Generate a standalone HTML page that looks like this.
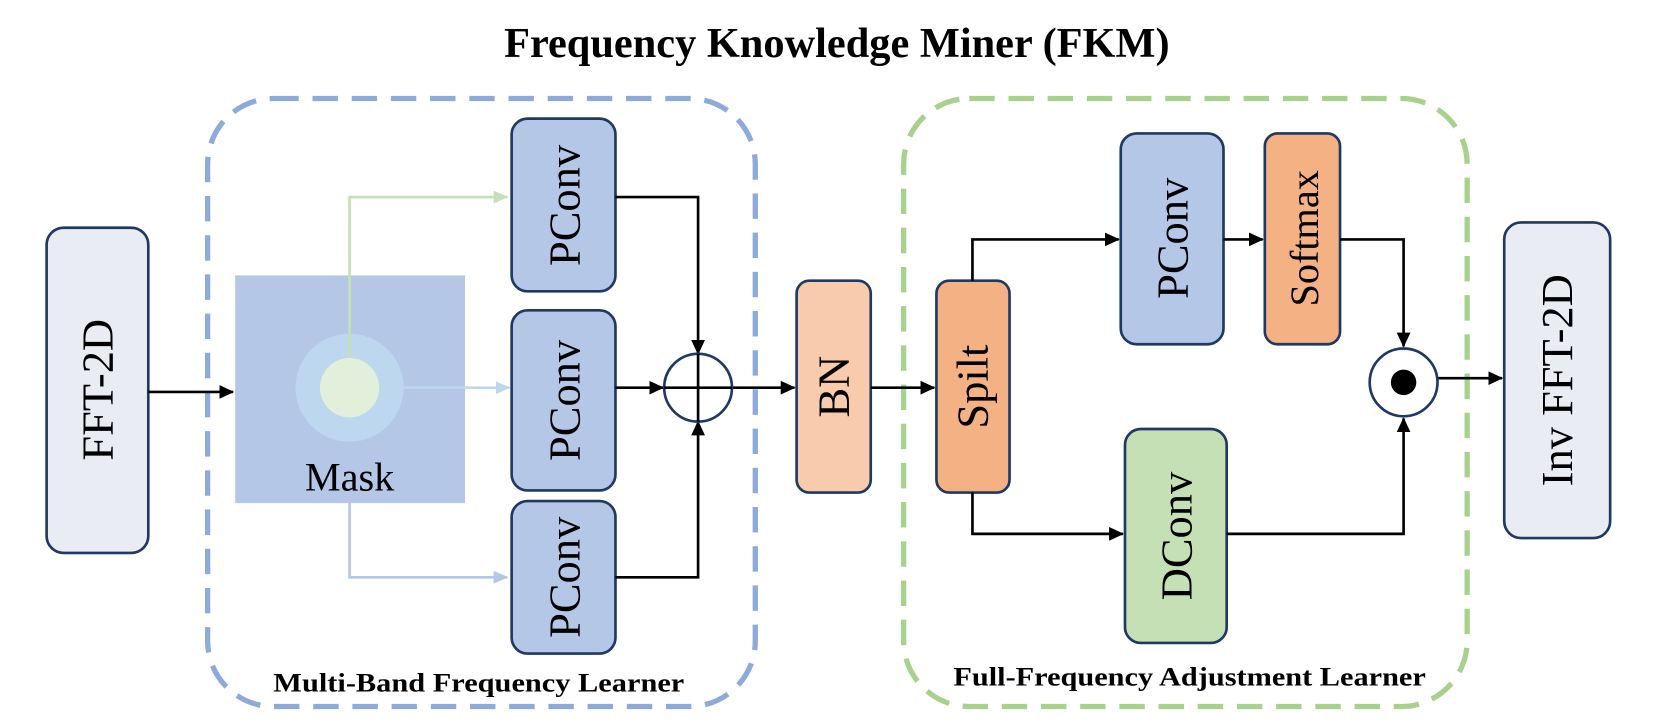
<!DOCTYPE html>
<html><head><style>body{margin:0;background:#fff}svg{display:block}</style></head><body>
<svg width="1661" height="724" viewBox="0 0 1568 683.5" preserveAspectRatio="none" xmlns="http://www.w3.org/2000/svg" font-family="Liberation Serif, serif">
<defs>
<marker id="ak" markerWidth="14" markerHeight="13" refX="13" refY="6.5" orient="auto" markerUnits="userSpaceOnUse"><path d="M0,0 L14,6.5 L0,13 z" fill="#000"/></marker>
<marker id="ag" markerWidth="14" markerHeight="12" refX="13" refY="6" orient="auto" markerUnits="userSpaceOnUse"><path d="M0,0 L14,6 L0,12 z" fill="#c5e0b4"/></marker>
<marker id="ab" markerWidth="14" markerHeight="12" refX="13" refY="6" orient="auto" markerUnits="userSpaceOnUse"><path d="M0,0 L14,6 L0,12 z" fill="#bdd7ee"/></marker>
<marker id="ab2" markerWidth="14" markerHeight="12" refX="13" refY="6" orient="auto" markerUnits="userSpaceOnUse"><path d="M0,0 L14,6 L0,12 z" fill="#b4c7e7"/></marker>
</defs>
<text x="790" y="54" text-anchor="middle" font-size="40" font-weight="bold">Frequency Knowledge Miner (FKM)</text>
<rect x="196" y="93" width="517" height="574" rx="62" fill="none" stroke="#8eaadb" stroke-width="5" stroke-dasharray="24 13"/>
<rect x="853" y="93" width="532" height="574" rx="62" fill="none" stroke="#a9d18e" stroke-width="5" stroke-dasharray="24 13"/>
<g stroke="#1f3864" stroke-width="2.5">
<rect x="44" y="215" width="96" height="307" rx="16" fill="#e9ecf2"/>
<rect x="483" y="112" width="98" height="163" rx="15" fill="#b4c7e7"/>
<rect x="483" y="293" width="98" height="170" rx="15" fill="#b4c7e7"/>
<rect x="483" y="473" width="98" height="144" rx="15" fill="#b4c7e7"/>
<rect x="752" y="265" width="70" height="200" rx="12" fill="#f8cbad"/>
<rect x="884" y="265" width="69" height="200" rx="12" fill="#f4b183"/>
<rect x="1058" y="126" width="97" height="199" rx="15" fill="#b4c7e7"/>
<rect x="1194" y="126" width="71" height="199" rx="12" fill="#f4b183"/>
<rect x="1062" y="405" width="96" height="202" rx="15" fill="#c5e0b4"/>
<rect x="1420" y="210" width="100" height="298" rx="16" fill="#e9ecf2"/>
</g>
<rect x="222" y="260" width="217" height="215" fill="#b4c7e7"/>
<circle cx="330" cy="366" r="51" fill="#bdd7ee"/>
<circle cx="330" cy="366" r="28" fill="#e2efda"/>
<text x="330" y="463" text-anchor="middle" font-size="38">Mask</text>
<g fill="none" stroke-width="2.5">
<path d="M330,338 V186 H479" stroke="#c5e0b4" marker-end="url(#ag)"/>
<path d="M381,366 H481" stroke="#bdd7ee" marker-end="url(#ab)"/>
<path d="M330,475 V545 H479" stroke="#b4c7e7" marker-end="url(#ab2)"/>
</g>
<g fill="none" stroke="#000" stroke-width="2.5">
<path d="M140,370 H220" marker-end="url(#ak)"/>
<path d="M581,186 H659 V334" marker-end="url(#ak)"/>
<path d="M581,366 H626" marker-end="url(#ak)"/>
<path d="M581,545 H659 V398" marker-end="url(#ak)"/>
<path d="M691,366 H750" marker-end="url(#ak)"/>
<path d="M822,366 H882" marker-end="url(#ak)"/>
<path d="M918,265 V226 H1056" marker-end="url(#ak)"/>
<path d="M918,465 V504 H1060" marker-end="url(#ak)"/>
<path d="M1155,226 H1192" marker-end="url(#ak)"/>
<path d="M1265,226 H1325 V327" marker-end="url(#ak)"/>
<path d="M1158,504 H1325 V395" marker-end="url(#ak)"/>
<path d="M1357,357 H1418" marker-end="url(#ak)"/>
</g>
<circle cx="659" cy="366" r="32" fill="#fff" stroke="#1f3864" stroke-width="2.5"/>
<path d="M627,366 H691 M659,334 V398" stroke="#000" stroke-width="2.5"/>
<circle cx="1325" cy="361" r="32" fill="#fff" stroke="#1f3864" stroke-width="2.5"/>
<circle cx="1325" cy="361" r="12" fill="#000"/>
<g font-size="42" text-anchor="middle">
<text transform="translate(106,368) rotate(-90)">FFT-2D</text>
<text transform="translate(547,194) rotate(-90)">PConv</text>
<text transform="translate(547,378) rotate(-90)">PConv</text>
<text transform="translate(547,545) rotate(-90)">PConv</text>
<text transform="translate(801,365) rotate(-90)">BN</text>
<text transform="translate(932,365) rotate(-90)">Spilt</text>
<text transform="translate(1121,225) rotate(-90)">PConv</text>
<text transform="translate(1244,225) rotate(-90)" font-size="38">Softmax</text>
<text transform="translate(1125,506) rotate(-90)">DConv</text>
<text transform="translate(1484,359) rotate(-90)">Inv FFT-2D</text>
</g>
<text x="258" y="653" font-size="25" font-weight="bold" textLength="388" lengthAdjust="spacingAndGlyphs">Multi-Band Frequency Learner</text>
<text x="900" y="647" font-size="25" font-weight="bold" textLength="446" lengthAdjust="spacingAndGlyphs">Full-Frequency Adjustment Learner</text>
</svg>
</body></html>
